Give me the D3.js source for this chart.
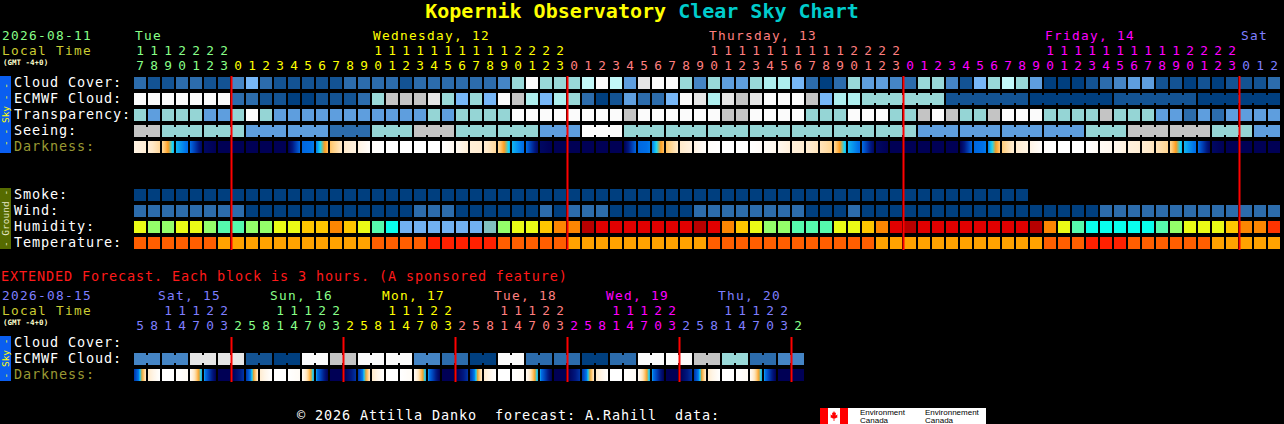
<!DOCTYPE html>
<html>
<head>
<meta charset="utf-8">
<title>Kopernik Observatory Clear Sky Chart</title>
<script src="https://cdn.jsdelivr.net/npm/d3@7"></script>
<style>
  body { margin: 0; background: #000; }
  svg text { font-family: "DejaVu Sans Mono", monospace; white-space: pre; }
  .hdr { font-size: 12.8px; }
  .hdr-w { font-size: 12.8px; letter-spacing: 1.29px; }
  .lbl { font-size: 13.5px; letter-spacing: 0.87px; }
</style>
</head>
<body>
<script>
// first hourly column and first 3-hour (extended) column, local time
var startTime = new Date(2026, 7, 11, 17),
    extStartTime = new Date(2026, 7, 15, 5),
    ecmwfSixHourStart = new Date(2026, 7, 13, 21), // ECMWF goes 6-hourly here
    seeingBlockStart = new Date(2026, 7, 11, 16);  // seeing comes in 3h blocks

// cloud classes: 0 clear ... 10 overcast, 11 = grey (no data / mixed)
var cloudCover = [2,1,1,2,2,1,1,3,5,2,1,1,1,1,1,2,2,2,2,1,2,
    2,2,2,2,2,3,6,10,6,6,6,8,10,8,4,9,10,10,6,3,6,4,4,6,7,7,5,2,0,2,
    6,4,4,3,2,6,6,3,1,5,6,8,6,4,0,0,0,1,2,3,4,4,1,1,0,1,0,1,1,1,2];
var ecmwfCloud = [10,10,10,10,10,10,10,
    2,2,1,1,0,0,1,1,1,2,6,11,11,11,
    9,6,5,6,5,10,11,7,5,7,6,2,0,1,4,2,2,5,10,9,7,9,11,9,10,10,10,11,5,7,7,
    6,6,6,6,6,6,1,1,1,1,1,1,0,0,0,0,0,0,1,1,1,1,1,1,0,0,0,0,0,0];
// 0 transparent, 1 above avg, 2 average, 3 below avg, 4 poor, 5 too cloudy
var transparency = [3,2,3,3,3,2,2,3,5,3,2,2,2,2,2,2,2,2,2,2,2,
    3,2,3,3,3,3,5,5,5,5,5,5,5,5,4,5,5,5,5,5,5,4,4,5,5,5,5,3,3,3,5,
    5,5,3,3,4,5,4,3,3,4,5,5,5,3,3,3,3,4,3,3,3,2,2,1,2,1,2,2,2,2];
// 0 excellent, 1 good, 2 average, 3 poor, 4 bad, 5 too cloudy
var seeing = [4,4,3,3,3,3,3,3,2,2,2,2,2,2,1,1,1,3,3,3,4,
    4,4,3,3,3,3,3,3,2,2,2,5,5,5,3,3,3,3,3,3,3,3,3,3,3,3,3,3,3,3,3,
    3,3,3,3,2,2,2,2,2,2,2,2,2,2,2,2,3,3,3,4,4,4,4,4,4,3,3,3,2,2];
// sky brightness at the start of each hour (-4 daylight ... 6 dark night)
var darkness = [-2.8,-2.3,-1.4,0.9,1.6,5.5,6,6,6,6,6,6,1.8,1.4,-0.8,-2,-2.7,-3.8,-4,-4,-4,
    -4,-4,-3.3,-2.4,-2.2,-1.4,0.9,1.6,5.5,6,6,6,6,6,6,1.8,1.4,-0.8,-2,-2.7,-3.8,-4,-4,-4,
    -3.6,-3.2,-2.5,-2.2,-1.8,-1.3,0.9,1.6,5.5,6,6,6,6,6,6,1.8,1.4,-1,-2.2,-2.8,-3.8,-4,-4,-4,
    -3.5,-3.2,-2.6,-2.3,-1.8,-1.3,0.9,1.6,5.5,6,6,6,6];
// smoke, ug/m3
var smoke = [0,0,0,0,0,0,0,0,0,0,0,0,0,0,0,0,0,0,0,0,0,0,0,0,0,0,0,0,0,0,0,0,
    0,0,0,0,0,0,0,0,0,0,0,0,0,0,0,0,0,0,0,0,0,0,0,0,0,0,0,0,0,0,0,0];
// wind, mph
var wind = [8,8,9,8,7,7,6,6,5,4,4,3,3,3,3,4,4,5,5,5,6,
    7,7,5,5,4,4,4,5,6,5,6,7,6,5,4,4,3,3,4,6,7,8,8,8,7,7,6,5,5,4,
    6,5,5,4,4,3,3,3,3,3,4,4,4,5,5,5,4,5,6,7,8,9,9,8,8,7,7,7,8,8,8];
// relative humidity, %
var humidity = [67,62,62,67,67,62,57,57,62,62,67,67,72,72,77,72,67,57,52,42,42,
    42,42,42,42,47,62,67,67,72,77,77,92,97,97,97,97,97,97,97,92,97,77,72,67,62,62,57,57,57,67,
    67,72,77,97,92,97,97,97,97,97,97,97,97,92,77,67,57,52,52,52,52,52,57,62,67,67,67,72,77,77,82];
// temperature, deg C
var temperature = [21,21,20,20,20,19,18,18,17,17,16,16,16,16,17,17,18,19,20,21,22,
    23,23,24,23,23,22,21,20,20,19,18,17,17,16,16,16,16,17,17,18,19,20,21,21,22,22,22,21,21,20,
    20,19,18,18,17,17,17,16,16,16,16,17,17,18,19,20,21,23,23,23,22,22,21,21,20,19,18,18,17,17,17];

// extended forecast, one value per 3-hour block
var extEcmwfCloud = [3,3,3,3,9,9,9,9,1,1,0,0,10,10,11,11,10,10,10,10,3,3,2,2,
    0,0,10,10,2,2,2,2,0,0,2,2,10,10,10,10,11,11,6,6,2,2,3,3];
var extDarkness = [3.5,-2,-4,-4,-3.5,1,6,6, 3.5,-2.2,-4,-4,-3.5,1,6,6,
    3.5,-2,-4,-4,-3.5,1,6,6, 3.5,-2.2,-4,-4,-3.5,1,6,6,
    3.5,-2,-4,-4,-3.5,1,6,6, 3.5,-2.2,-4,-4,-3.5,1,6,6];

var skyRows = ["Cloud Cover:", "ECMWF Cloud:", "Transparency:", "Seeing:", "Darkness:"];
var groundRows = ["Smoke:", "Wind:", "Humidity:", "Temperature:"];
var extRows = ["Cloud Cover:", "ECMWF Cloud:", "Darkness:"];
var dayColors = ["#88ff88", "#ffff00", "#ff7f7f", "#ff00ff", "#7f7fff"];

// colour scales
var cloudColor = d3.scaleOrdinal().domain(d3.range(12))
    .range(["#003f7f","#135393","#2c6cac","#4585c5","#5e9ede","#77b7f7",
            "#99d9d9","#aeeeee","#c2f8f8","#e6e6e6","#fbfbfb","#c4c4c4"]);
var skyColor = d3.scaleOrdinal().domain(d3.range(6))
    .range(["#003f7f","#2c6cac","#5e9ede","#95d5d5","#c4c4c4","#fbfbfb"]);
var darkColor = d3.scaleLinear()
    .domain([-4, -3, -2, -1, -0.2, 0.6, 1.5, 3, 4.5, 6])
    .range(["#ffffff","#fff6ea","#ffeacb","#ffcc7a","#ff9a1a","#19d7f5",
            "#0070e8","#0042b8","#00177f","#000055"]);
var smokeColor = d3.scaleThreshold().domain([2, 5, 10, 20])
    .range(["#003f7f","#2c6cac","#5e9ede","#99d9d9","#c4c4c4"]);
var windColor = d3.scaleThreshold().domain([6, 12, 17, 29, 45])
    .range(["#003f7f","#2c6cac","#5e9ede","#99d9d9","#c4c4c4","#fbfbfb"]);
var humidColor = d3.scaleThreshold()
    .domain([25,30,35,40,45,50,55,60,65,70,75,80,85,90,95])
    .range(["#08035d","#0d4d8d","#3070b0","#4e8ece","#71b1f1","#80c0c0","#09feed",
            "#55faad","#94fe6a","#eafb16","#fec600","#fc8602","#fe3401","#ea0000",
            "#b70000","#e10000"]);
var tempColor = d3.scaleThreshold().domain([18.5, 22.5])
    .range(["#ffa200","#ff5e00","#ff2000"]);

var hours = d3.timeHour.range(startTime, d3.timeHour.offset(startTime, cloudCover.length));
var extHours = d3.timeHour.range(extStartTime,
    d3.timeHour.offset(extStartTime, 3 * extEcmwfCloud.length), 3);

var svg = d3.select("body").append("svg")
    .attr("width", 1284)
    .attr("height", 424);
var defs = svg.append("defs");

// title
var title = svg.append("text")
    .attr("x", 642).attr("y", 18)
    .attr("text-anchor", "middle")
    .style("font-size", "20px")
    .style("font-weight", "bold");
title.append("tspan").attr("fill", "#ffff00").text("Kopernik Observatory ");
title.append("tspan").attr("fill", "#00cccc").text("Clear Sky Chart");

function dayColor(t){
    return dayColors[d3.timeDay.count(d3.timeDay.floor(startTime), d3.timeDay.floor(t)) % 5];
}

//column scales
var x = d3.scaleBand().domain(d3.range(hours.length))
    .range([134, 134 + 14 * hours.length - 2]).paddingInner(1 / 7);
var xe = d3.scaleBand().domain(d3.range(extHours.length))
    .range([134, 134 + 14 * extHours.length - 2]).paddingInner(1 / 7);

//row scales
var ySky = d3.scaleBand().domain(skyRows).range([77, 77 + 16 * skyRows.length - 4]).paddingInner(0.25);
var yGround = d3.scaleBand().domain(groundRows).range([189, 189 + 16 * groundRows.length - 4]).paddingInner(0.25);
var yExt = d3.scaleBand().domain(extRows).range([337, 337 + 16 * extRows.length - 4]).paddingInner(0.25);

//time header: date, local time, day names, hour digits
function drawHeader(times, xs, top, dayFormat, labelShift, minCols){
    var g = svg.append("g");
    g.append("text").attr("class", "hdr-w").attr("x", 2).attr("y", top)
        .attr("fill", dayColor(times[0]))
        .text(d3.timeFormat("%Y-%m-%d")(times[0]));
    g.append("text").attr("class", "hdr-w").attr("x", 2).attr("y", top + 15)
        .attr("fill", "#cccc33")
        .text("Local Time");
    g.append("text").attr("x", 3).attr("y", top + 25)
        .attr("fill", "#ffffcc").style("font-size", "7.5px").style("font-weight", "bold")
        .text("(GMT -4+0)");

    var days = d3.groups(d3.range(times.length), function(i){ return +d3.timeDay.floor(times[i]); });
    days.forEach(function(day){
        var cols = day[1];
        if (cols.length < minCols) return;
        var c = cols.find(function(i){ return times[i].getHours() >= 10; });
        if (c === undefined) c = cols[0];
        g.append("text").attr("class", "hdr-w")
            .attr("x", xs(c) + labelShift).attr("y", top)
            .attr("fill", dayColor(times[c]))
            .text(d3.timeFormat(dayFormat(cols.length))(times[c]));
    });

    g.selectAll(".tens").data(times).join("text")
        .attr("class", "tens hdr")
        .attr("x", function(d, i){ return xs(i) + xs.bandwidth() / 2; })
        .attr("y", top + 15)
        .attr("text-anchor", "middle")
        .attr("fill", dayColor)
        .text(function(d){ return d.getHours() >= 10 ? Math.floor(d.getHours() / 10) : ""; });
    g.selectAll(".units").data(times).join("text")
        .attr("class", "units hdr")
        .attr("x", function(d, i){ return xs(i) + xs.bandwidth() / 2; })
        .attr("y", top + 30)
        .attr("text-anchor", "middle")
        .attr("fill", dayColor)
        .text(function(d){ return d.getHours() % 10; });
}

drawHeader(hours, x, 40, function(n){ return n >= 10 ? "%A, %-d" : "%a"; }, 1, 1);
drawHeader(extHours, xe, 300, function(){ return "%a, %-d"; }, -4, 3);

//row labels
function drawLabels(rows, ys, colorOf){
    svg.append("g").selectAll("text").data(rows).join("text")
        .attr("class", "lbl")
        .attr("x", 14)
        .attr("y", function(d){ return ys(d) + 10; })
        .attr("fill", colorOf)
        .text(function(d){ return d; });
}
function labelColor(d){ return d === "Darkness:" ? "#999933" : "#ffffff"; }
drawLabels(skyRows, ySky, labelColor);
drawLabels(groundRows, yGround, labelColor);
drawLabels(extRows, yExt, labelColor);

//one row of blocks; blockOf joins neighbours belonging to the same forecast block
function drawCells(values, fill, xs, y, h, blockOf){
    var g = svg.append("g");
    g.selectAll("rect.cell").data(values).join("rect")
        .attr("class", "cell")
        .attr("x", function(d, i){ return xs(i); })
        .attr("y", y)
        .attr("width", xs.bandwidth())
        .attr("height", h)
        .attr("fill", fill);
    if (blockOf){
        var links = d3.range(values.length - 1).filter(function(i){
            return blockOf(i) !== null && blockOf(i) === blockOf(i + 1);
        });
        g.selectAll("rect.link").data(links).join("rect")
            .attr("class", "link")
            .attr("x", function(i){ return xs(i) + xs.bandwidth(); })
            .attr("y", y + 2)
            .attr("width", xs.step() - xs.bandwidth())
            .attr("height", h - 4)
            .attr("fill", function(i){ return fill(values[i], i); });
    }
}

//darkness cells shade from the start of the hour to the start of the next
function darkFill(values, prefix){
    values.forEach(function(v, i){
        var v1 = i < values.length - 1 ? values[i + 1] : v;
        var lg = defs.append("linearGradient").attr("id", prefix + i);
        d3.range(0, 1.0001, 0.125).forEach(function(t){
            lg.append("stop").attr("offset", t).attr("stop-color", darkColor(v + (v1 - v) * t));
        });
    });
    return function(d, i){ return "url(#" + prefix + i + ")"; };
}

var bw = ySky.bandwidth();

drawCells(cloudCover, cloudColor, x, ySky("Cloud Cover:"), bw);
drawCells(ecmwfCloud, cloudColor, x, ySky("ECMWF Cloud:"), bw, function(i){
    return hours[i] >= ecmwfSixHourStart ?
        Math.floor(d3.timeHour.count(ecmwfSixHourStart, hours[i]) / 6) : null;
});
drawCells(transparency, skyColor, x, ySky("Transparency:"), bw);
drawCells(seeing, skyColor, x, ySky("Seeing:"), bw, function(i){
    return Math.floor(d3.timeHour.count(seeingBlockStart, hours[i]) / 3);
});
drawCells(darkness, darkFill(darkness, "dk"), x, ySky("Darkness:"), bw);

drawCells(smoke, smokeColor, x, yGround("Smoke:"), bw);
drawCells(wind, windColor, x, yGround("Wind:"), bw);
drawCells(humidity, humidColor, x, yGround("Humidity:"), bw);
drawCells(temperature, tempColor, x, yGround("Temperature:"), bw);

drawCells(extEcmwfCloud, cloudColor, xe, yExt("ECMWF Cloud:"), bw, function(i){
    return Math.floor(d3.timeHour.count(extStartTime, extHours[i]) / 6);
});
drawCells(extDarkness, darkFill(extDarkness, "edk"), xe, yExt("Darkness:"), bw);

//red midnight lines
function midnights(times, xs, y0, y1){
    var cols = d3.range(1, times.length).filter(function(i){
        return +d3.timeDay.floor(times[i]) !== +d3.timeDay.floor(times[i - 1]);
    });
    svg.append("g").selectAll("rect").data(cols).join("rect")
        .attr("x", function(i){ return xs(i) - 1.5; })
        .attr("y", y0)
        .attr("width", 2)
        .attr("height", y1 - y0)
        .attr("fill", "#ff0000");
}
midnights(hours, x, ySky.range()[0] - 1, yGround.range()[1] + 1);
midnights(extHours, xe, yExt.range()[0], yExt.range()[1] + 1);

//vertical side tags
function sideTag(ys, fill, label, textFill){
    var y0 = ys.range()[0] - 1, y1 = ys.range()[1];
    svg.append("rect").attr("x", 0).attr("y", y0)
        .attr("width", 11).attr("height", y1 - y0).attr("fill", fill);
    svg.append("text")
        .attr("transform", "translate(6," + (y0 + y1) / 2 + ") rotate(-90)")
        .attr("text-anchor", "middle")
        .attr("dy", "0.35em")
        .attr("fill", textFill)
        .style("font-size", "9.5px")
        .text(label);
}
sideTag(ySky, "#0a5ef0", "- - Sky - -", "#ffff00");
sideTag(yGround, "#566b00", "- Ground -", "#e8e8c8");
sideTag(yExt, "#0a5ef0", "- Sky -", "#ffff00");

svg.append("text").attr("class", "lbl").attr("x", 1).attr("y", 281)
    .attr("fill", "#ff1a1a")
    .text("EXTENDED Forecast. Each block is 3 hours. (A sponsored feature)");

//footer
svg.append("text").attr("class", "lbl").attr("x", 297).attr("y", 420)
    .attr("fill", "#ffffff")
    .text("\u00a9 2026 Attilla Danko  forecast: A.Rahill  data:");

var logo = svg.append("g").attr("transform", "translate(820,408)");
logo.append("rect").attr("width", 166).attr("height", 16).attr("fill", "#ffffff");
logo.append("rect").attr("width", 8).attr("height", 16).attr("fill", "#ff0000");
logo.append("rect").attr("x", 20).attr("width", 8).attr("height", 16).attr("fill", "#ff0000");
logo.append("path")
    .attr("transform", "translate(14,8)")
    .attr("d", "M0,-5L1,-3L2,-3.5L1.6,-0.5L3.6,-1.6L3,0.4L4,1L1,2.6L0.4,2.4L0.4,5L-0.4,5L-0.4,2.4L-1,2.6L-4,1L-3,0.4L-3.6,-1.6L-1.6,-0.5L-2,-3.5L-1,-3Z")
    .attr("fill", "#ff0000");
[["Environment", 40], ["Environnement", 105]].forEach(function(d){
    logo.append("text").attr("x", d[1]).attr("y", 7)
        .attr("fill", "#000").style("font-family", "Liberation Sans Narrow, Liberation Sans, sans-serif")
        .style("font-size", "8px").text(d[0]);
    logo.append("text").attr("x", d[1]).attr("y", 15)
        .attr("fill", "#000").style("font-family", "Liberation Sans Narrow, Liberation Sans, sans-serif")
        .style("font-size", "8px").text("Canada");
});
</script>
</body>
</html>
